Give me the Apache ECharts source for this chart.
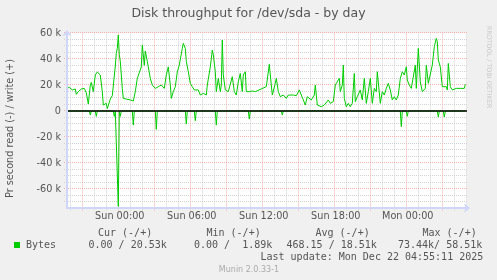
<!DOCTYPE html>
<html><head><meta charset="utf-8">
<script src="https://cdn.jsdelivr.net/npm/echarts@6.0.0/dist/echarts.min.js"></script>
<style>html,body{margin:0;padding:0;background:#f0f0f0}#c{width:497px;height:280px}</style>
</head><body><div id="c"></div><script>
// time in minutes relative to Sun 00:00, values in k (thousands of bytes/s)
const writeTimes = [-260,-245,-230,-215,-210,-200,-185,-170,-160,-150,-140,-135,-125,-115,-105,-95,-90,-80,-75,-65,-60,-55,-40,-30,-20,-15,-10,-5,0,5,10,20,25,40,60,75,85,95,105,115,120,130,135,145,160,170,185,200,215,230,240,250,260,265,275,285,295,305,310,320,325,335,340,350,360,370,380,390,400,410,425,440,445,460,470,475,485,490,500,510,515,520,525,535,550,560,570,580,590,600,610,620,625,635,640,655,670,685,695,715,725,740,755,760,770,785,790,800,810,825,840,850,860,875,890,905,915,925,935,945,955,965,980,985,995,1005,1015,1030,1040,1050,1060,1075,1085,1095,1105,1110,1120,1125,1130,1140,1150,1160,1170,1180,1185,1195,1210,1220,1230,1240,1250,1260,1270,1280,1290,1295,1305,1310,1320,1330,1340,1350,1360,1370,1380,1390,1400,1410,1420,1430,1440,1445,1455,1465,1475,1485,1490,1500,1510,1520,1530,1535,1540,1550,1560,1570,1580,1590,1595,1600,1610,1620,1630,1640,1645,1650,1660,1670,1680,1690,1700,1710,1720,1730,1735];
const writeValues = [17.4,18.2,16.2,16.9,12.8,14.9,16.9,17.4,14,5.4,20,22,14.9,27.7,30,31.5,27.7,14.9,4.6,6,5.9,1.89,9.2,11.8,11.8,34.6,44.4,48.2,58.51,43.3,38.2,17.4,9.7,9.2,8.5,7.7,14.9,25.1,23.8,33.9,50.8,35.1,46.1,38.2,25.1,20,17.4,18.7,20,17.4,27.7,33.9,20,9.7,14.9,18.7,30.2,35.3,34,48.2,52,48.2,38.2,30.2,21.3,18.7,16.2,14.9,16.2,12.3,13.6,12.3,20,33.9,46.9,43.3,30.2,14.9,25.1,14.9,20,54.6,27.7,16.2,14.9,13.6,26.4,14.9,12.3,22.5,28.9,14.9,27.7,30.2,14.9,14.9,15.4,14.9,15.4,17,17.4,18.7,35.9,27.7,12.3,21.3,25.1,14.9,11,12.3,9.7,12.3,11,12.3,11.8,16.2,12.3,8.5,4.6,11,12.3,8.5,12.3,20,4.6,4.6,3.3,4.6,5.9,8.5,5.9,7.2,20,18.7,25.1,14.9,20,35.3,9.7,3.3,5.9,3.3,5.9,28.9,7.2,11,16.2,8.5,25.1,5.9,14.9,25.1,5.9,17.4,14.9,30.2,31.5,5.9,14.9,12.3,17.4,21.3,16.2,8.5,11,8.5,12.3,25.1,30.2,27.7,34,23.8,20,17.4,18.7,35.3,17.4,48.2,22.5,14.9,13.6,17.4,35.3,21.3,20,35.3,49.5,55.9,53.3,39.2,33.9,18.7,17.4,18.7,16.2,36.6,18.7,16.2,16.2,17.4,16.2,17.4,16.2,17.4,20.53];
const readTimes = [-260,-145,-140,-135,-115,-110,-105,-25,-20,-15,-5,0,5,10,15,70,75,80,185,190,195,335,340,345,380,385,390,485,490,495,650,655,660,815,820,825,1410,1415,1420,1440,1445,1450,1595,1600,1605,1625,1630,1635,1735];
const readValues = [0,0,-3.1,0,0,-4.1,0,0,-4.1,0,0,-73.44,0,-4.1,0,0,-10.8,0,0,-14.1,0,0,-10,0,0,-7.4,0,0,-10.8,0,0,-6.2,0,0,-3.1,0,0,-12,0,0,-4.1,0,0,-4.6,0,0,-4.6,0,0];
const xLabelMinutes = [0,360,720,1080,1440];
const xLabelTexts = ['Sun 00:00','Sun 06:00','Sun 12:00','Sun 18:00','Mon 00:00'];
const yLabelValues = [-60,-40,-20,0,20,40,60];
const yLabelTexts = ['-60 k','-40 k','-20 k','0','20 k','40 k','60 k'];
const legendHeaders = ['Cur (-/+)','Min (-/+)','Avg (-/+)','Max (-/+)'];
const legendValues = ['0.00 / 20.53k','0.00 /  1.89k','468.15 / 18.51k','73.44k/ 58.51k'];
const seriesName = 'Bytes';
const titleText = 'Disk throughput for /dev/sda - by day';
const yAxisName = 'Pr second read (-) / write (+)';
const lastUpdate = 'Last update: Mon Dec 22 04:55:11 2025';
const muninVersion = 'Munin 2.0.33-1';
const rrdCredit = 'RRDTOOL / TOBI OETIKER';

const XMIN = -256.5, XMAX = 1743.5, YMIN = -74.6, YMAX = 60;
const GREEN = '#00cc00', AXIS = '#cfd6f8', MINOR = '#d2d2d2', MAJOR = '#f5b0b0', FONT = '#555';
const SANS = '"DejaVu Sans"', MONO = '"DejaVu Sans Mono"';

const minorX = [], majorX = [], minorY = [], majorY = [];
for (let t = -240; t <= XMAX; t += 60) { if (t % 180 === 0) majorX.push(t); else minorX.push(t); }
for (let v = -70; v <= 60; v += 5) { if (v % 20 === 0) majorY.push(v); else minorY.push(v); }

const chart = echarts.init(document.getElementById('c'), null, {renderer: 'canvas'});

function txt(text, x, y, font, fill, align, va, rot) {
  return {type: 'text', x: x, y: y, rotation: rot || 0, silent: true,
    style: {text: text, font: font, fill: fill, align: align, verticalAlign: va,
            textAlign: align, textVerticalAlign: va}};
}
const graphics = [
  txt(titleText, 248.5, 14, '12.5px ' + SANS, FONT, 'center', 'middle'),
  txt(yAxisName, 10.5, 128.5, '9.7px ' + SANS, FONT, 'center', 'middle', Math.PI / 2),
  txt(rrdCredit, 489, 67, '6.4px ' + SANS, '#c8c8c8', 'center', 'middle', -Math.PI / 2),
  txt(muninVersion, 249, 269.5, '8px ' + SANS, '#aaaaaa', 'center', 'middle'),
  {type: 'rect', shape: {x: 14, y: 242, width: 6, height: 6}, style: {fill: GREEN}, silent: true},
  txt(seriesName, 26, 245.3, '10px ' + MONO, FONT, 'left', 'middle'),
  txt(lastUpdate, 260.5, 257.7, '10px ' + MONO, FONT, 'left', 'middle')
];
const headerX = [98, 206.5, 315.5, 422.5];
const valueX = [88.5, 194, 286.5, 398];
legendHeaders.forEach((h, i) => graphics.push(txt(h, headerX[i], 233.3, '10px ' + MONO, FONT, 'left', 'middle')));
legendValues.forEach((v, i) => graphics.push(txt(v, valueX[i], 245.3, '10px ' + MONO, FONT, 'left', 'middle')));

// grid lines drawn through the axes' own scales
function gridSeries(values, vertical, color) {
  return {type: 'custom', xAxisIndex: 0, yAxisIndex: 0, silent: true, z: 1, clip: false,
    data: values.map(v => vertical ? [v, YMIN] : [XMIN, v]),
    renderItem: function (params, api) {
      let x1, y1, x2, y2;
      if (vertical) {
        const a = api.coord([api.value(0), YMIN]), b = api.coord([api.value(0), YMAX]);
        const x = Math.round(a[0]) + 0.5;
        x1 = x; x2 = x; y1 = a[1] + 2.5; y2 = b[1];
      } else {
        const a = api.coord([XMIN, api.value(1)]), b = api.coord([XMAX, api.value(1)]);
        const y = Math.round(a[1]) - 0.5;
        y1 = y; y2 = y; x1 = a[0] - 3; x2 = b[0];
      }
      return {type: 'line', shape: {x1: x1, y1: y1, x2: x2, y2: y2},
              style: {stroke: color, lineWidth: 1, lineDash: [1, 1]}};
    }};
}

const noSplit = {show: false};

chart.setOption({
  animation: false,
  backgroundColor: '#f0f0f0',
  grid: {left: 67, top: 33, width: 400, height: 175, show: true, backgroundColor: '#ffffff', borderWidth: 0, containLabel: false},
  xAxis: [
    {type: 'value', min: XMIN, max: XMAX, position: 'bottom', z: 5,
     axisLine: {show: true, onZero: false, lineStyle: {color: AXIS, width: 2}, symbol: ['none', 'arrow'], symbolSize: [7, 6], symbolOffset: [0, 3]},
     axisTick: {show: false},
     axisLabel: {show: false},
     splitLine: noSplit},
    {type: 'value', min: XMIN, max: XMAX, position: 'bottom',
     axisLine: {show: false, onZero: false},
     axisTick: {show: false},
     axisLabel: {show: true, customValues: xLabelMinutes, margin: 3, padding: [0, 0, 0, 3],
                 color: FONT, fontFamily: 'DejaVu Sans', fontSize: 9.7,
                 formatter: v => xLabelTexts[xLabelMinutes.indexOf(v)] || ''},
     splitLine: noSplit}
  ],
  yAxis: [
    {type: 'value', min: YMIN, max: YMAX, position: 'left', z: 5,
     axisLine: {show: true, onZero: false, lineStyle: {color: AXIS, width: 2}, symbol: ['none', 'arrow'], symbolSize: [7, 6], symbolOffset: [0, 3]},
     axisTick: {show: false},
     axisLabel: {show: false},
     splitLine: noSplit},
    {type: 'value', min: YMIN, max: YMAX, position: 'left',
     axisLine: {show: false, onZero: false},
     axisTick: {show: false},
     axisLabel: {show: true, customValues: yLabelValues, margin: 6,
                 color: FONT, fontFamily: 'DejaVu Sans', fontSize: 9.7,
                 formatter: v => yLabelTexts[yLabelValues.indexOf(v)] || ''},
     splitLine: noSplit}
  ],
  series: [
    gridSeries(minorX, true, MINOR),
    gridSeries(minorY, false, MINOR),
    gridSeries(majorX, true, MAJOR),
    gridSeries(majorY, false, MAJOR),
    {type: 'line', name: 'read', xAxisIndex: 0, yAxisIndex: 0, symbol: 'none', silent: true, z: 3,
     data: readTimes.map((t, i) => [t, readValues[i]]),
     lineStyle: {color: GREEN, width: 1}},
    {type: 'line', name: 'write', xAxisIndex: 0, yAxisIndex: 0, symbol: 'none', silent: true, z: 3,
     data: writeTimes.map((t, i) => [t, writeValues[i]]),
     lineStyle: {color: GREEN, width: 1},
     markLine: {silent: true, symbol: 'none', label: {show: false}, animation: false,
                lineStyle: {color: '#000000', width: 1.5, type: 'solid'}, data: [{yAxis: 0}]}}
  ],
  graphic: graphics
});
</script></body></html>
